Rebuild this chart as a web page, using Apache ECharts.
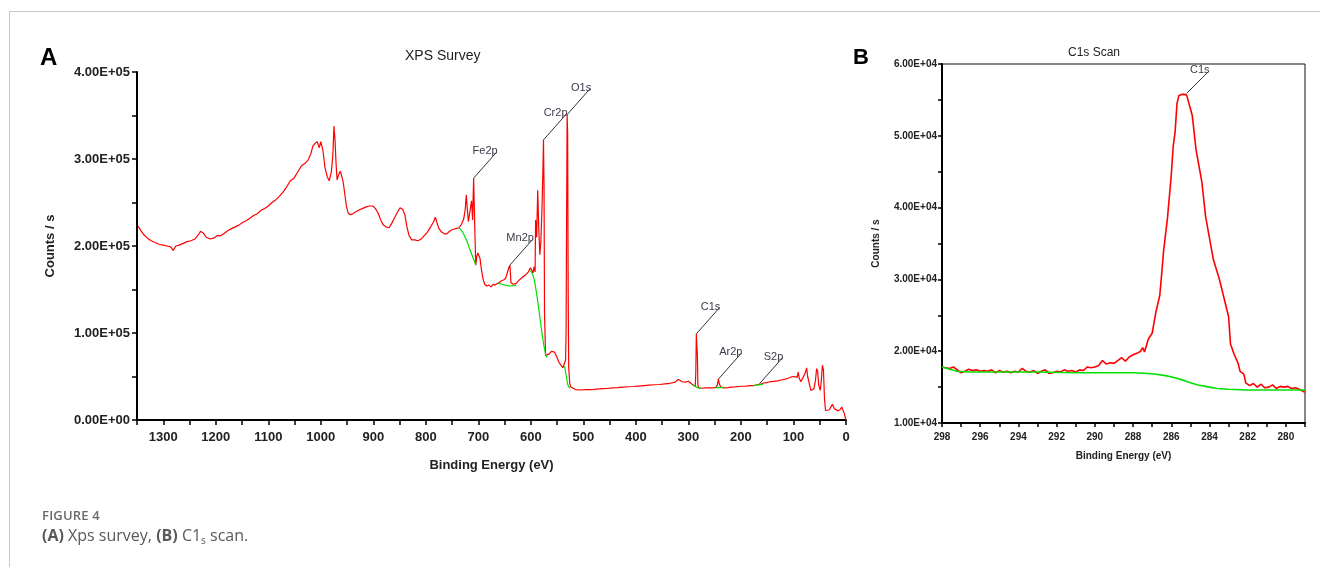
<!DOCTYPE html>
<html>
<head>
<meta charset="utf-8">
<script src="https://cdn.jsdelivr.net/npm/echarts@6/dist/echarts.min.js"></script>
<style>
  html, body { margin: 0; padding: 0; background: #fff; }
  #wrap { position: relative; width: 1320px; height: 567px; overflow: hidden; }
  #frame { position: absolute; left: 9px; top: 11px; right: -2px; bottom: -2px; border-top: 1px solid #c8c8c8; border-left: 1px solid #c8c8c8; }
  #chart { position: absolute; left: 0; top: 0; width: 1320px; height: 567px; }
  .caption { position: absolute; left: 42px; top: 506px; font-family: "Open Sans", sans-serif; color: #595959; }
  .caption .fig { font-size: 13px; font-weight: 600; letter-spacing: 0.2px; line-height: 18px; color: #6a6a6a; }
  .caption .txt { font-size: 16px; line-height: 22px; }
  .caption sub { font-size: 10px; vertical-align: -3px; line-height: 0; }
</style>
</head>
<body>
<div id="wrap">
  <div id="frame"></div>
  <div id="chart"></div>
  <div class="caption">
    <div class="fig">FIGURE 4</div>
    <div class="txt"><b>(A)</b> Xps survey, <b>(B)</b> C1<sub>s</sub> scan.</div>
  </div>
</div>
<script>
// --- (A) XPS survey ---
const surveyEnergy = [
  1348, 1343, 1337, 1330, 1323, 1316, 1308, 1300, 1293, 1286, 1281, 1276, 1270, 1262, 1255, 1247, 1240, 1233, 1229, 1224,
  1218, 1211, 1204, 1197, 1190, 1183, 1176, 1170, 1163, 1156, 1149, 1142, 1135, 1128, 1121, 1114, 1107, 1100, 1093, 1086,
  1079, 1072, 1065, 1058, 1051, 1044, 1037, 1030, 1024, 1019, 1015, 1011, 1007, 1003, 1000, 996, 992, 988, 984, 980,
  977, 975, 973, 971, 969, 966, 963, 960, 957, 954, 951, 948, 944, 939, 934, 928, 921, 914, 907, 901,
  896, 891, 886, 881, 876, 870, 865, 860, 855, 849, 844, 840, 836, 832, 827, 821, 815, 809, 803, 797,
  791, 786, 782, 779, 775, 770, 765, 760, 755, 749, 743, 737, 732, 728, 725, 723, 721, 719, 716, 713,
  711, 709, 707, 705, 703, 701, 699, 697, 694, 691, 688, 684, 680, 676, 672, 668, 664, 660, 656, 652,
  648, 645, 642, 640, 638, 634, 628, 622, 616, 610, 605, 601, 598, 596, 594, 592, 591, 589, 587, 585,
  583, 581, 579, 577, 576, 575, 574, 572, 569, 565, 561, 558, 555, 551, 547, 543, 539, 536, 534, 533,
  532, 531, 530, 529, 528, 526, 524, 521, 515, 505, 495, 485, 475, 465, 455, 445, 435, 425, 415, 405,
  395, 385, 375, 365, 355, 345, 335, 325, 320, 316, 312, 306, 300, 296, 292, 289, 287, 286, 285, 284,
  283, 282, 280, 275, 268, 261, 254, 248, 245, 243, 241, 238, 232, 225, 218, 211, 204, 197, 190, 183,
  176, 169, 163, 157, 151, 144, 137, 130, 123, 116, 110, 104, 99, 96, 93, 91, 89, 86, 83, 80,
  77, 75, 73, 70, 67, 64, 61, 58, 56, 54, 52, 49, 47, 45, 43, 41, 39, 36, 32, 29,
  26, 24, 22, 19, 15, 11, 8, 5, 3, 1, 0
];
const surveyCounts = [
  223000, 218000, 213000, 209000, 206000, 204000, 202000, 201000, 200000, 199000, 195000, 200000, 201000, 203000, 205000, 206000, 208000, 213000, 217000, 215000,
  210000, 208000, 209000, 212000, 212000, 215000, 218000, 220000, 222000, 224000, 227000, 229000, 232000, 235000, 237000, 241000, 243000, 246000, 250000, 253000,
  257000, 262000, 268000, 275000, 278000, 285000, 292000, 295000, 299000, 306000, 315000, 318000, 320000, 313000, 320000, 310000, 290000, 280000, 275000, 285000,
  305000, 338000, 322000, 295000, 276000, 282000, 286000, 280000, 272000, 258000, 245000, 238000, 236000, 237000, 239000, 241000, 243000, 245000, 246000, 246000,
  243000, 238000, 230000, 224000, 222000, 221000, 226000, 232000, 238000, 244000, 242000, 236000, 222000, 212000, 207000, 207000, 206000, 208000, 212000, 216000,
  222000, 227000, 233000, 227000, 220000, 216000, 214000, 214000, 217000, 219000, 220000, 221000, 225000, 231000, 242000, 259000, 242000, 228000, 230000, 252000,
  230000, 278000, 225000, 178000, 188000, 192000, 190000, 186000, 172000, 162000, 156000, 154000, 155000, 153000, 156000, 155000, 157000, 158000, 160000, 161000,
  163000, 162000, 175000, 178000, 158000, 156000, 157000, 161000, 164000, 167000, 170000, 175000, 172000, 169000, 176000, 170000, 230000, 210000, 264000, 220000,
  190000, 205000, 240000, 290000, 322000, 270000, 120000, 74000, 75000, 76000, 79000, 80000, 78000, 73000, 67000, 63000, 60000, 62000, 69000, 100000,
  230000, 351000, 330000, 150000, 60000, 42000, 38000, 37000, 35000, 34500, 35000, 34800, 35500, 36000, 36200, 37000, 37200, 37800, 38200, 38500,
  39000, 39500, 40000, 40500, 40800, 41500, 42200, 43500, 46500, 45500, 44000, 43500, 44500, 42500, 40500, 39500, 38500, 55000, 99000, 85000,
  75000, 40000, 37000, 36500, 37000, 37000, 37000, 37500, 40000, 47000, 41000, 37500, 37000, 37200, 37800, 38000, 38500, 38800, 39000, 39500,
  39500, 40500, 41000, 42500, 43000, 44000, 44500, 45000, 46000, 47000, 48000, 49500, 50000, 52000, 49000, 55000, 48000, 44000, 46000, 51000,
  55000, 60000, 50000, 42000, 34000, 33000, 36000, 46000, 59000, 56000, 40000, 34000, 45000, 63000, 58000, 25000, 11000, 12000, 11500, 12500,
  18000, 20000, 13000, 11000, 10500, 12000, 15000, 13500, 7000, 2000, 0
];
// background (green), null = gap
const surveyBgEnergy = [737, 730, 722, 715, 708, 705, 700, 662, 655, 648, 640, 632, 628, 627, 601, 597, 593, 589, 585, 580, 576, 572, 569, 568, 536, 533, 530, 527, 525, 524, 292, 288, 284, 280, 276, 275, 250, 244, 238, 234, 233, 176, 170, 164, 158];
const surveyBgCounts = [221000, 216000, 206000, 194000, 183000, 178000, null, 157000, 156000, 155000, 154000, 154500, 155000, null, 172000, 168000, 160000, 145000, 128000, 105000, 88000, 75000, 72000, null, 62000, 52000, 41000, 37500, 37000, null, 41000, 39000, 37500, 37000, 36800, null, 37000, 37200, 37300, 37400, null, 39500, 40000, 40500, 41000];
const surveyPeakNames = ['Fe2p', 'Mn2p', 'Cr2p', 'O1s', 'C1s', 'Ar2p', 'S2p'];
const surveyPeakEnergy = [709, 640, 576, 531, 285, 243, 165];
const surveyPeakCounts = [278000, 178000, 322000, 351000, 99000, 47000, 41500];

// --- (B) C1s scan ---
const c1sEnergy = [
  298.0, 297.8, 297.6, 297.4, 297.2, 297.0, 296.8, 296.6, 296.4, 296.2, 296.0, 295.8, 295.6, 295.4, 295.2, 295.0, 294.8, 294.6, 294.4, 294.2,
  294.0, 293.8, 293.6, 293.4, 293.2, 293.0, 292.8, 292.6, 292.4, 292.2, 292.0, 291.8, 291.6, 291.4, 291.2, 291.0, 290.8, 290.6, 290.4, 290.2,
  290.0, 289.8, 289.6, 289.4, 289.2, 289.0, 288.8, 288.6, 288.4, 288.2, 288.0, 287.8, 287.6, 287.5, 287.4, 287.2, 287.0, 286.8, 286.6, 286.5,
  286.4, 286.2, 286.0, 285.9, 285.8, 285.7, 285.6, 285.4, 285.3, 285.2, 285.0, 284.9, 284.7, 284.4, 284.2, 283.9, 283.8, 283.5, 283.2, 283.0,
  282.9, 282.7, 282.5, 282.4, 282.2, 282.1, 281.9, 281.7, 281.5, 281.3, 281.1, 280.9, 280.7, 280.5, 280.3, 280.1, 279.9, 279.7, 279.5, 279.3,
  279.1, 279.0
];
const c1sCounts = [
  17800, 17700, 17600, 17800, 17400, 17000, 17200, 17500, 17300, 17400, 17200, 17300, 17200, 17400, 17000, 17300, 17100, 17200, 17000, 17200,
  17100, 17600, 17200, 17100, 17300, 16900, 17200, 17400, 16900, 17000, 17200, 17100, 17400, 17200, 17300, 17100, 17400, 17300, 17800, 17700,
  17800, 18000, 18700, 18200, 18400, 18300, 18700, 19100, 18600, 19200, 19500, 19700, 20000, 20500, 19900, 21700, 22500, 25500, 27800, 30800,
  34000, 38500, 44500, 48500, 50500, 54500, 55600, 55800, 55900, 55700, 53800, 52800, 48000, 43600, 38700, 34300, 32800, 30200, 27000, 24800,
  21000, 19500, 18300, 17200, 16800, 15600, 15200, 15500, 15000, 15400, 14900, 15000, 15300, 14800, 15100, 15000, 15100, 14800, 14900, 14700,
  14400, 14300
];
const c1sBgEnergy = [298.0, 297.6, 297.2, 296.5, 295.0, 293.0, 291.0, 289.0, 288.0, 287.2, 286.8, 286.3, 285.8, 285.3, 285.0, 284.6, 284.2, 283.6, 283.0, 282.0, 281.0, 280.0, 279.0];
const c1sBgCounts = [17800, 17500, 17200, 17100, 17100, 17100, 17000, 17000, 17000, 16900, 16800, 16600, 16300, 15900, 15600, 15300, 15100, 14800, 14700, 14600, 14600, 14600, 14600];
const c1sPeakNames = ['C1s'];
const c1sPeakEnergy = [285.2];
const c1sPeakCounts = [55900];

const FONT = 'Liberation Sans, Arial, sans-serif';

function sci(v) {
  if (v === 0) return '0.00E+00';
  const e = Math.floor(Math.log10(v) + 1e-9);
  const m = v / Math.pow(10, e);
  return m.toFixed(2) + 'E+' + String(e).padStart(2, '0');
}

function pairs(xs, ys) {
  return xs.map((x, i) => [x, ys[i] == null ? '-' : ys[i]]);
}

function peakSeries(gridIdx, names, xs, ys, dx, dy, fontSize) {
  return {
    type: 'custom',
    xAxisIndex: gridIdx,
    yAxisIndex: gridIdx,
    silent: true,
    z: 10,
    data: pairs(xs, ys),
    renderItem: (params, api) => {
      const p = api.coord([api.value(0), api.value(1)]);
      return {
        type: 'group',
        children: [
          { type: 'line', shape: { x1: p[0], y1: p[1], x2: p[0] + dx, y2: p[1] + dy }, style: { stroke: '#333', lineWidth: 1 } },
          { type: 'text', x: p[0] + dx + 1, y: p[1] + dy - 1, style: { text: names[params.dataIndex], align: 'right', verticalAlign: 'middle', fill: '#3a3a4a', font: fontSize + 'px ' + FONT } }
        ]
      };
    }
  };
}

const chart = echarts.init(document.getElementById('chart'), null, { renderer: 'canvas' });

const axisText = { color: '#222', fontFamily: FONT, fontWeight: 'bold' };

chart.setOption({
  animation: false,
  backgroundColor: 'transparent',
  title: [
    { text: 'A', left: 35, top: 41, textStyle: { fontSize: 24, fontWeight: 'bold', color: '#000', fontFamily: FONT } },
    { text: 'XPS Survey', left: 400, top: 44, textStyle: { fontSize: 14, fontWeight: 'normal', color: '#222', fontFamily: FONT } },
    { text: 'B', left: 848, top: 42, textStyle: { fontSize: 22, fontWeight: 'bold', color: '#000', fontFamily: FONT } },
    { text: 'C1s Scan', left: 1063, top: 42, textStyle: { fontSize: 12, fontWeight: 'normal', color: '#222', fontFamily: FONT } }
  ],
  grid: [
    { left: 137, right: 474, top: 72, bottom: 147, outerBoundsMode: 'none' },
    { left: 942, right: 15, top: 64, bottom: 144, outerBoundsMode: 'none', show: true, borderColor: '#111', borderWidth: 1 }
  ],
  xAxis: [
    {
      gridIndex: 0, type: 'value', inverse: true, min: 0, max: 1350, interval: 50,
      name: 'Binding Energy (eV)', nameLocation: 'middle', nameGap: 39,
      nameTextStyle: { fontSize: 13, ...axisText },
      axisLine: { onZero: false, lineStyle: { color: '#000', width: 2 } },
      axisTick: { length: 5, lineStyle: { color: '#000', width: 1.5 } },
      axisLabel: { fontSize: 13, margin: 11, ...axisText, formatter: v => (v % 100 === 0 && v < 1350 ? String(v) : '') },
      splitLine: { show: false }
    },
    {
      gridIndex: 1, type: 'value', inverse: true, min: 279, max: 298, interval: 1,
      name: 'Binding Energy (eV)', nameLocation: 'middle', nameGap: 28,
      nameTextStyle: { fontSize: 10, ...axisText },
      axisLine: { onZero: false, lineStyle: { color: '#000', width: 2 } },
      axisTick: { length: 4, lineStyle: { color: '#000', width: 1.5 } },
      axisLabel: { fontSize: 10, margin: 9, ...axisText, formatter: v => (v % 2 === 0 ? String(v) : '') },
      splitLine: { show: false }
    }
  ],
  yAxis: [
    {
      gridIndex: 0, type: 'value', min: 0, max: 400000, interval: 50000,
      name: 'Counts / s', nameLocation: 'middle', nameGap: 80, nameRotate: 90,
      nameTextStyle: { fontSize: 13, ...axisText },
      axisLine: { onZero: false, lineStyle: { color: '#000', width: 2 } },
      axisTick: { length: 5, lineStyle: { color: '#000', width: 1.5 } },
      axisLabel: { fontSize: 13, margin: 7, ...axisText, formatter: v => (v % 100000 === 0 ? sci(v) : '') },
      splitLine: { show: false }
    },
    {
      gridIndex: 1, type: 'value', min: 10000, max: 60000, interval: 5000,
      name: 'Counts / s', nameLocation: 'middle', nameGap: 61, nameRotate: 90,
      nameTextStyle: { fontSize: 10, ...axisText },
      axisLine: { onZero: false, lineStyle: { color: '#000', width: 2 } },
      axisTick: { length: 4, lineStyle: { color: '#000', width: 1.5 } },
      axisLabel: { fontSize: 10, margin: 5, ...axisText, formatter: v => (v % 10000 === 0 ? sci(v) : '') },
      splitLine: { show: false }
    }
  ],
  series: [
    {
      type: 'line', xAxisIndex: 0, yAxisIndex: 0, data: pairs(surveyEnergy, surveyCounts),
      showSymbol: false, silent: true, lineStyle: { color: '#ff0000', width: 1.2 }
    },
    {
      type: 'line', xAxisIndex: 0, yAxisIndex: 0, data: pairs(surveyBgEnergy, surveyBgCounts),
      showSymbol: false, silent: true, connectNulls: false, lineStyle: { color: '#00e000', width: 1.2 }
    },
    peakSeries(0, surveyPeakNames, surveyPeakEnergy, surveyPeakCounts, 23, -26, 11),
    {
      type: 'line', xAxisIndex: 1, yAxisIndex: 1, data: pairs(c1sEnergy, c1sCounts),
      showSymbol: false, silent: true, lineStyle: { color: '#ff0000', width: 1.6 }
    },
    {
      type: 'line', xAxisIndex: 1, yAxisIndex: 1, data: pairs(c1sBgEnergy, c1sBgCounts),
      showSymbol: false, silent: true, lineStyle: { color: '#00e000', width: 1.6 }
    },
    peakSeries(1, c1sPeakNames, c1sPeakEnergy, c1sPeakCounts, 22, -22, 11)
  ]
});
</script>
</body>
</html>
